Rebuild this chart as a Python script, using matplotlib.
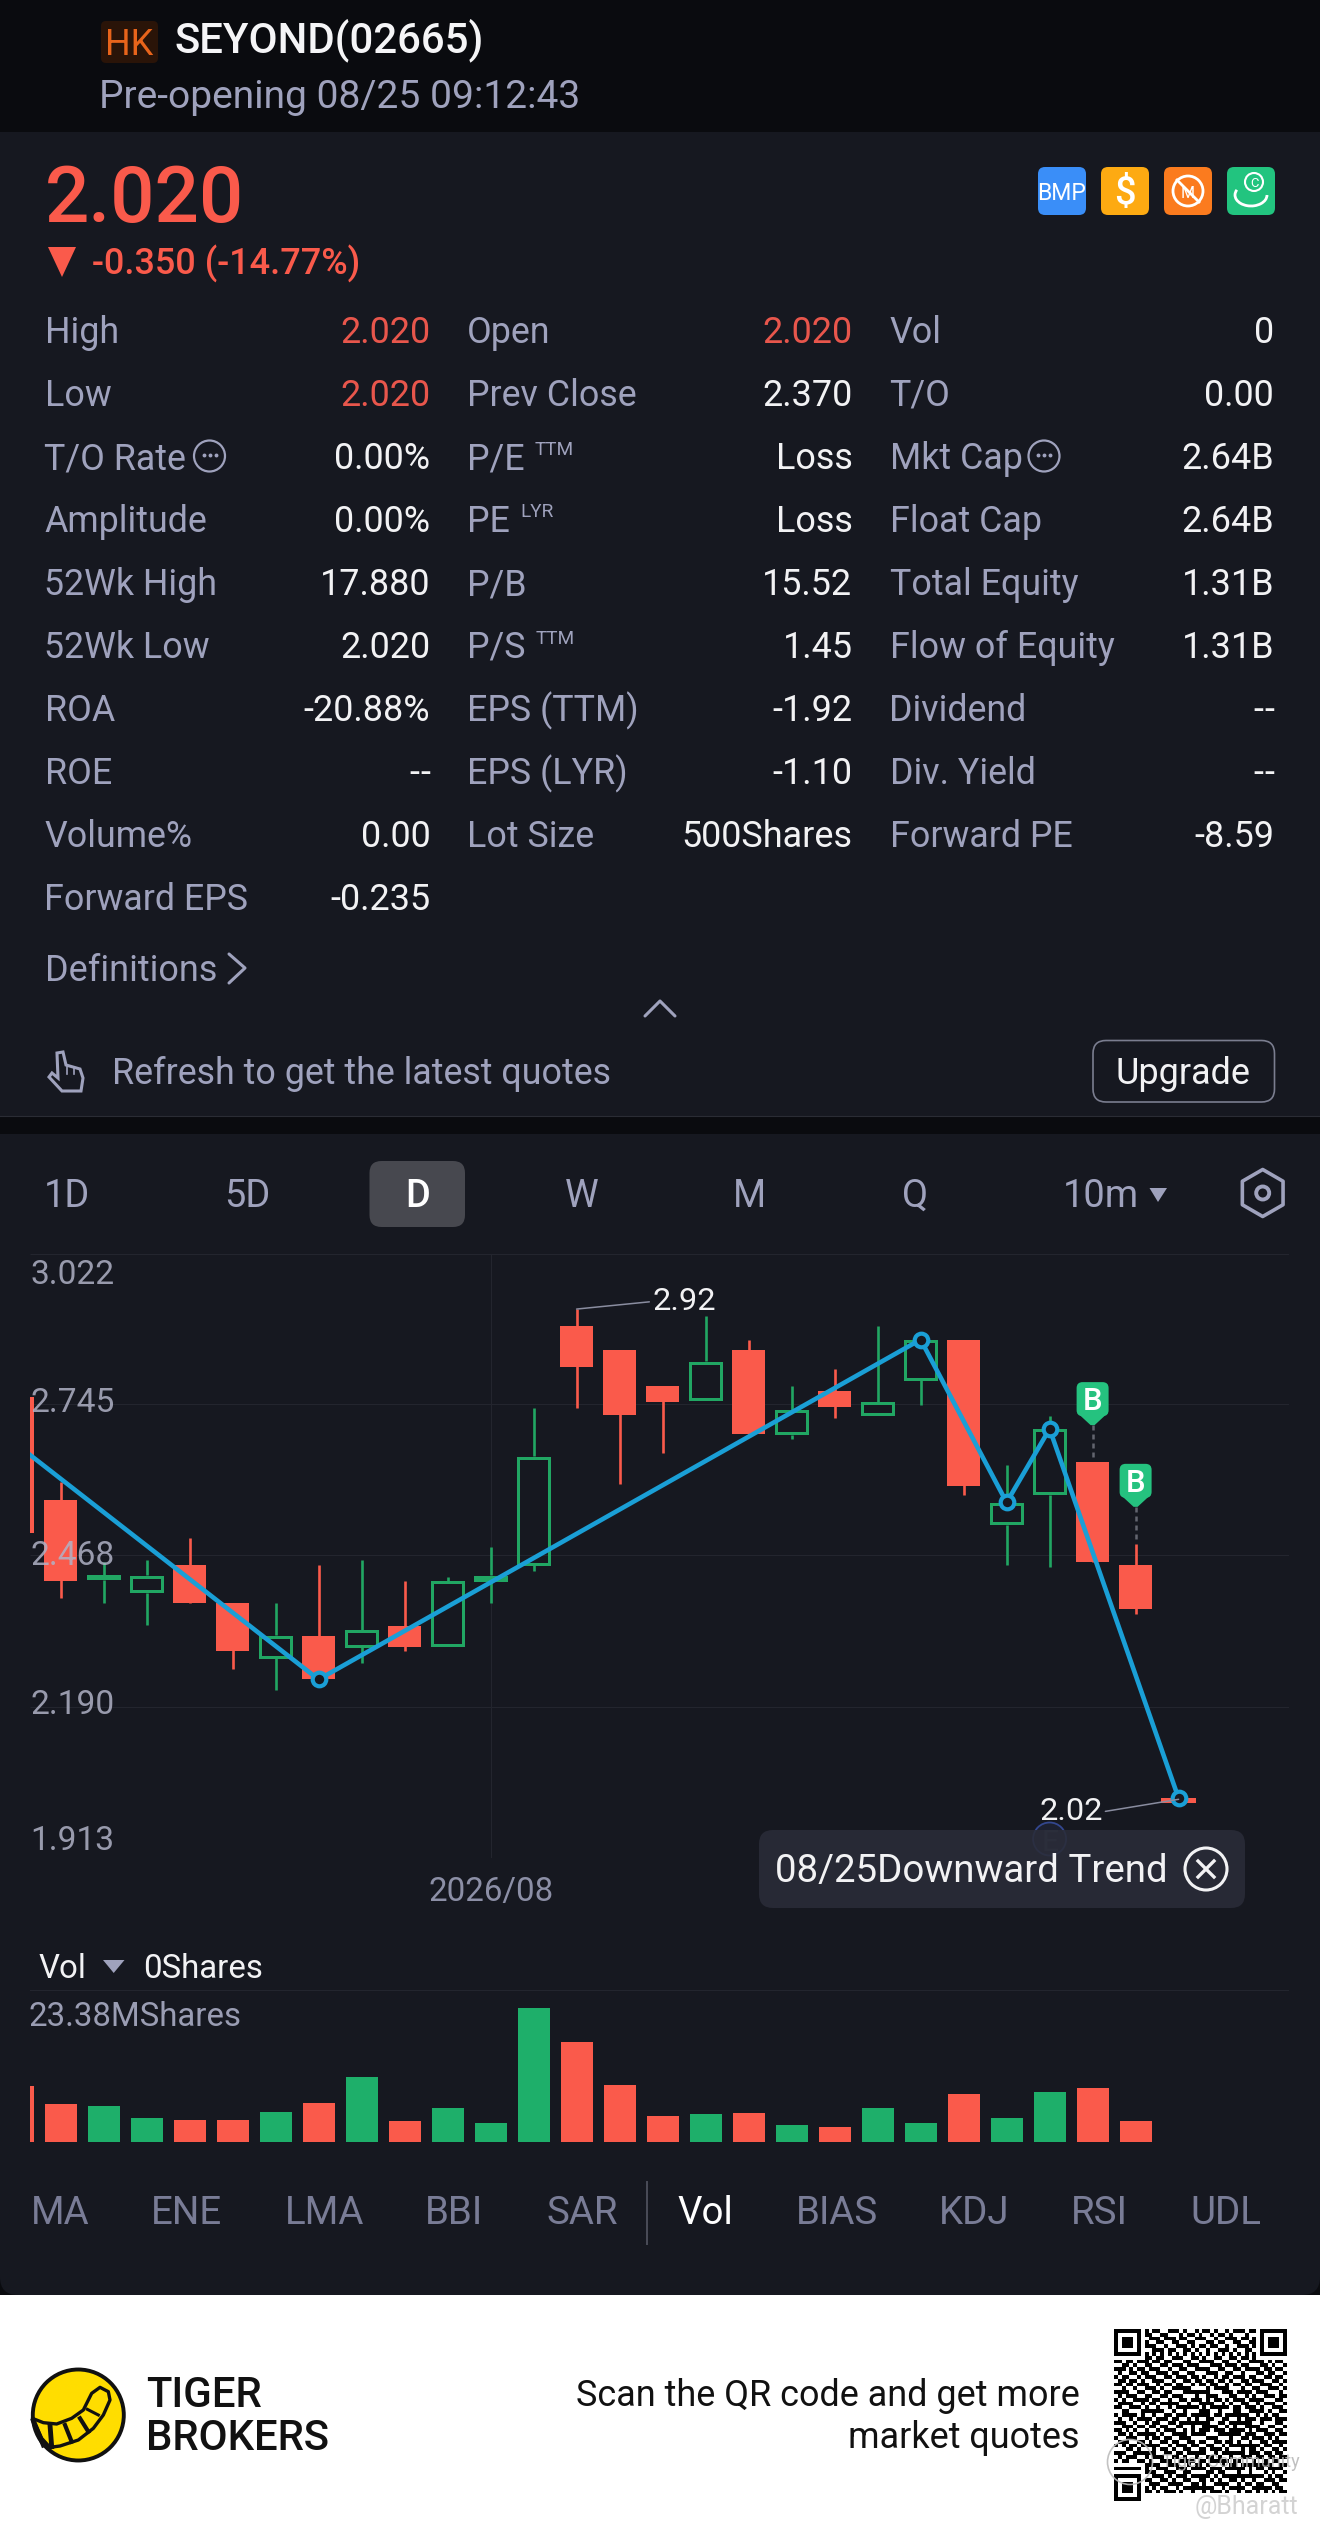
import matplotlib
matplotlib.use("Agg")
import matplotlib.pyplot as plt
import numpy as np
from matplotlib.patches import Rectangle, FancyBboxPatch, Circle, Polygon, RegularPolygon, Arc
from matplotlib.transforms import ScaledTranslation

plt.rcParams['font.family'] = ['Roboto', 'DejaVu Sans']

# ---------- data ----------
highs  = [2.758,2.603,2.455,2.459,2.500,2.381,2.380,2.450,2.459,2.420,2.429,2.484,2.739,2.920,2.844,2.779,2.907,2.864,2.779,2.810,2.889,2.864,2.864,2.634,2.723,2.639,2.489,2.023]
lows   = [2.509,2.390,2.380,2.340,2.381,2.260,2.221,2.240,2.271,2.292,2.300,2.380,2.440,2.739,2.599,2.655,2.753,2.690,2.681,2.720,2.724,2.744,2.579,2.451,2.446,2.455,2.361,2.014]
opens  = [2.758,2.570,2.423,2.399,2.450,2.381,2.279,2.320,2.299,2.339,2.300,2.420,2.450,2.889,2.844,2.779,2.753,2.844,2.689,2.769,2.724,2.789,2.864,2.524,2.579,2.639,2.450,2.023]
closes = [2.509,2.421,2.432,2.431,2.381,2.292,2.321,2.240,2.331,2.300,2.421,2.431,2.650,2.814,2.725,2.750,2.824,2.690,2.735,2.740,2.750,2.864,2.595,2.565,2.700,2.455,2.370,2.014]
volumes = [8.63,5.75,5.45,3.60,3.29,3.29,4.57,6.01,9.92,3.19,5.19,2.93,20.60,15.31,8.73,3.96,4.26,4.47,2.57,2.26,5.14,2.83,7.30,3.70,7.71,8.32,3.19,0.0]
zig_idx = [0,7,21,23,24,27]
zig_val = [2.670,2.240,2.864,2.565,2.700,2.022]
price_ticks = [3.022,2.745,2.468,2.190,1.913]
price_tick_labels = ['3.022','2.745','2.468','2.190','1.913']
vol_max = 23.38
date_tick = 11
date_label = '2026/08'

table_labels = [
 ['High','Low','T/O Rate','Amplitude','52Wk High','52Wk Low','ROA','ROE','Volume%','Forward EPS'],
 ['Open','Prev Close','P/E','PE','P/B','P/S','EPS (TTM)','EPS (LYR)','Lot Size'],
 ['Vol','T/O','Mkt Cap','Float Cap','Total Equity','Flow of Equity','Dividend','Div. Yield','Forward PE'],
]
table_values = [
 ['2.020','2.020','0.00%','0.00%','17.880','2.020','-20.88%','--','0.00','-0.235'],
 ['2.020','2.370','Loss','Loss','15.52','1.45','-1.92','-1.10','500Shares'],
 ['0','0.00','2.64B','2.64B','1.31B','1.31B','--','--','-8.59'],
]
period_tabs = ['1D','5D','D','W','M','Q']
indicator_tabs = ['MA','ENE','LMA','BBI','SAR','Vol','BIAS','KDJ','RSI','UDL']

qr_rows = """
111111101011001110100101101001011101101111111
100000101100110001011010010110100010001000001
101110100111011101100111001001110110101011101
101110101001100110011000110110011001101011101
101110101110010011101011011001001110101011101
100000100011101100110100100111010011001000001
111111101010101010101010101010101010101111111
000000001101100111001101001100110110100000000
110110111011011000110011110011001001111010110
001101001100110111011100011101110110001101001
111010110111001001100111100110011011110110110
010011011001110110011000111001100100011011001
101100101110011011101101001011011101100110110
011011010011100100110110110110100110111001101
110110111001011011001011011001011011001110010
001001001110100111110000101111000100110011101
111100110011011000111111100011101111011100010
010111001100110111000100111000110010100111011
101001111011001001101110101101011101111000110
011110010110111110010011110010100110010111001
110011101001001011111101011111011011101001110
001100011111100100100011100100011001111010011
101111010010011011101111101101111110010101100
010010111101110110010100110011001011101110111
111001001011001101111111100110111111001000110
001110110110110011001001111001010011110011001
110101001001011100101011101110111101011100110
011010111110100111101111000111111011100111011
100111001011011001110000111000100110111010100
011100110100110110011011001101101001001101111
101011011111001011101100110010111111110110010
000110100010110100110011011101000101101001101
111001111110011011011111001011111101110110110
010111001011100110100100110100100111011011011
101100110100111001111011011111011000100101100
000000001111001110010110100010110111111110011
111111101001110011101111011101111101011011110
100000101110011100110000110110001001000101001
101110100011101011101111101011111111111010110
101110101100110100110011010100110100100111011
101110100111001111001101001111001011011001100
100000101010110010111111110010111100111110110
111111101101011101001001011101001011010101011
000000000000000000000000000000000000000000000
000000000000000000000000000000000000000000000
""".split()

W, H = 1320, 2535
DARK = '#0a0b0f'; PANEL = '#161820'; LABEL = '#9fa2bd'; VALUE = '#f2f2f4'
RED = '#fa5a4b'; TRED = '#e8564c'; GREEN = '#21a663'; VGREEN = '#1eaf6a'; BLUE = '#1a9fd6'; GRID = '#23252e'

fig = plt.figure(figsize=(W/100, H/100), dpi=100, facecolor='white')

def axpx(x0, y0, x1, y1, z):
    a = fig.add_axes([x0/W, 1-y1/H, (x1-x0)/W, (y1-y0)/H], zorder=z)
    return a

bg = axpx(0, 0, W, H, 0); bg.set_xlim(0, W); bg.set_ylim(H, 0); bg.axis('off')
fg = axpx(0, 0, W, H, 5); fg.set_xlim(0, W); fg.set_ylim(H, 0); fg.axis('off')
fg.patch.set_alpha(0)

def T(x, y, s, px, color=VALUE, ha='left', weight='normal', a=fg, **k):
    return a.text(x, y, s, fontsize=px*0.72, color=color, ha=ha, va='baseline', fontweight=weight, **k)

def RR(a, x0, y0, x1, y1, r, fc, ec='none', lw=0, z=1, alpha=None):
    p = FancyBboxPatch((x0+r, y0+r), x1-x0-2*r, y1-y0-2*r, boxstyle=f"round,pad={r},rounding_size={r}",
                       fc=fc, ec=ec, lw=lw, zorder=z, alpha=alpha)
    a.add_patch(p)
    return p

# backgrounds
bg.add_patch(Rectangle((0, 0), W, 2295, fc=DARK, ec='none'))
bg.add_patch(Rectangle((0, 132), W, 984, fc=PANEL, ec='none'))
bg.add_patch(Rectangle((0, 1134), W, 1130, fc=PANEL, ec='none'))
RR(bg, 0, 2200, W, 2295, 18, PANEL)
bg.plot([0, W], [1116, 1116], color='#2a2c34', lw=0.8)

# header
RR(fg, 101, 21, 158, 63, 5, '#2a1408')
T(129.5, 55, 'HK', 36, '#e8641b', ha='center')
T(174, 52, 'SEYOND(02665)', 42, '#f5f5f7', weight='medium')
T(99, 107.5, 'Pre-opening 08/25 09:12:43', 39, LABEL)

# price head
T(45, 222, '2.020', 78, RED, weight='medium')
fg.add_patch(Polygon([(48, 247), (76, 247), (62, 277)], fc=RED, ec='none'))
T(92.5, 275, '-0.350 (-14.77%)', 36, RED, weight='medium')

# status icons
for x0, c in zip([1038, 1101, 1164, 1227], ['#3a8ef8', '#fdaa12', '#fb7b1e', '#22c47f']):
    RR(fg, x0, 167, x0+48, 215, 7, c)
T(1062, 200, 'BMP', 23, 'white', ha='center')
T(1125, 204, '$', 38, 'white', ha='center', weight='medium')
fg.add_patch(Circle((1188, 191), 15, fc='none', ec='white', lw=2))
fg.plot([1177, 1199], [180, 202], color='white', lw=2)
T(1188, 198, 'M', 16, 'white', ha='center')
fg.add_patch(Circle((1254, 182), 9, fc='none', ec='white', lw=1.5))
T(1254, 187, 'C', 13, 'white', ha='center')
fg.add_patch(Arc((1251, 195), 32, 22, theta1=0, theta2=200, ec='white', lw=2))

# table
row_y = [343 + 63*i for i in range(10)]
lab_x = [44.5, 467, 889.5]
val_x = [430.5, 852.5, 1274]
for c in range(3):
    for r, (l, v) in enumerate(zip(table_labels[c], table_values[c])):
        T(lab_x[c], row_y[r], l, 35.8, LABEL)
        col = TRED if (c == 0 and r < 2) or (c == 1 and r == 0) else VALUE
        if v == '--':
            T(val_x[c], row_y[r], '-', 36, col, ha='right')
            T(val_x[c]-11, row_y[r], '-', 36, col, ha='right')
        else:
            T(val_x[c], row_y[r], v, 36, col, ha='right')
T(534.5, 455, 'TTM', 19, LABEL)
T(520, 517, 'LYR', 19, LABEL)
T(535.5, 643.5, 'TTM', 19, LABEL)
for cx in (209.5, 1044):
    fg.add_patch(Circle((cx, 456), 15.5, fc='none', ec=LABEL, lw=1.6))
    fg.plot([cx-6, cx, cx+6], [455, 455, 455], ls='none', marker='o', ms=1.8, color=LABEL)

T(44.5, 981, 'Definitions', 36, LABEL)
fg.plot([229, 245, 229], [954, 968, 983], color=LABEL, lw=2.2, solid_capstyle='round')
fg.plot([645, 660, 675], [1016, 1001, 1016], color=LABEL, lw=2.2, solid_capstyle='round')

# hand icon
fg.add_patch(Polygon([(57, 1053), (63, 1052), (66, 1065), (80, 1069), (83, 1078), (81, 1091), (62, 1091),
                      (49, 1077), (52, 1073), (58, 1078)], fc='none', ec=LABEL, lw=2.2))
fg.plot([67, 67], [1066, 1074], color=LABEL, lw=1.2)
fg.plot([74, 74], [1068, 1074], color=LABEL, lw=1.2)
T(111.5, 1083.5, 'Refresh to get the latest quotes', 35.8, LABEL)
RR(fg, 1093, 1040.5, 1274.5, 1102, 13, 'none', ec='#7a7d8f', lw=1.2)
T(1183, 1083.5, 'Upgrade', 36, VALUE, ha='center')

# period tabs
RR(fg, 369.5, 1161, 465, 1227, 12, '#47484f')
for s, cx in zip(period_tabs, [67, 247.7, 417.5, 582, 749.6, 915]):
    if s == 'D':
        T(cx, 1207, s, 38, 'white', ha='center', weight='medium')
    else:
        T(cx, 1207, s, 38, LABEL, ha='center')
T(1063, 1207, '10m', 38, LABEL)
fg.add_patch(Polygon([(1149.5, 1188), (1167, 1188), (1158, 1202)], fc=LABEL, ec='none'))
fg.add_patch(RegularPolygon((1262.7, 1193), 6, radius=23.5, fc='none', ec=LABEL, lw=2.6, joinstyle='round'))
fg.add_patch(Circle((1262.7, 1193), 6.5, fc='none', ec=LABEL, lw=2.8))

# ---------- price chart ----------
ax = axpx(30, 1253.5, 1289, 1857.6, 2)
ax.patch.set_alpha(0)
ax.set_xlim((30-17.6)/43, (1289-17.6)/43)
ax.set_ylim(price_ticks[-1], price_ticks[0])
for s in ax.spines.values():
    s.set_visible(False)
per_px = (price_ticks[0]-price_ticks[-1])/604.1

ax.hlines(price_ticks, *ax.get_xlim(), color=GRID, lw=0.8, zorder=1)
ax.vlines([date_tick], price_ticks[-1], price_ticks[0], color=GRID, lw=0.8, zorder=1)

xs = np.arange(len(closes))
for i in xs:
    up = closes[i] > opens[i]
    top, bot = max(opens[i], closes[i]), min(opens[i], closes[i])
    if up:
        ins = 1.5*per_px
        ax.bar(i, top-bot-2*ins, bottom=bot+ins, width=0.72, facecolor='none', edgecolor=GREEN, linewidth=2.16, zorder=2)
        ax.vlines(i, top, highs[i], color=GREEN, linewidth=1.9, zorder=2)
        ax.vlines(i, lows[i], bot, color=GREEN, linewidth=1.9, zorder=2)
    else:
        if i == len(closes)-1:
            ax.bar(i, top-bot, bottom=bot, width=0.82, color=RED, linewidth=0, zorder=2)
        else:
            ax.bar(i, top-bot, bottom=bot, width=0.767, color=RED, linewidth=0, zorder=2)
            ax.vlines(i, lows[i], highs[i], color=RED, linewidth=1.9, zorder=2)

ax.plot(zig_idx, zig_val, color=BLUE, lw=3.3, zorder=2.2, marker='o', markevery=[1, 2, 3, 4, 5],
        ms=9.8, mew=3.0, mfc=PANEL, mec=BLUE, solid_joinstyle='round')

ax.set_yticks(price_ticks, price_tick_labels)
ax.set_xticks([date_tick], [date_label])
ax.set_axisbelow(False)
ax.tick_params(axis='y', length=0, pad=0, labelsize=33.5*0.72, labelcolor='#b0b2c6')
ax.tick_params(axis='x', length=0, pad=13, labelsize=33*0.72, labelcolor='#8c8fa6')
y_off = [-30.5, -8, -9.5, -7, 8]
for lab, off in zip(ax.get_yticklabels(), y_off):
    lab.set_ha('left'); lab.set_va('baseline'); lab.set_alpha(0.85)
    lab.set_transform(lab.get_transform() + ScaledTranslation(0, off/100, fig.dpi_scale_trans))

ax.annotate('2.92', xy=(13, 2.92), xytext=(75.5, 7.5), textcoords='offset pixels', color=VALUE,
            fontsize=32.5*0.72, ha='left', va='center', annotation_clip=False, zorder=6,
            arrowprops=dict(arrowstyle='-', color='#8a8da0', lw=1.1, shrinkA=0, shrinkB=0, relpos=(0, 0.5)))
ax.annotate('2.02', xy=(27, 2.02), xytext=(-76, -12.5), textcoords='offset pixels', color=VALUE,
            fontsize=32.5*0.72, ha='right', va='center', annotation_clip=False, zorder=6,
            arrowprops=dict(arrowstyle='-', color='#8a8da0', lw=1.1, shrinkA=0, shrinkB=0, relpos=(1, 0.5)))

def to_px(i, p):
    X, Y = ax.transData.transform((i, p))
    return X, H - Y

# buy pins
for i in (25, 26):
    px, py = to_px(i, highs[i])
    tip = py - 37
    fg.plot([px, px], [tip, py-5], color='#63656f', lw=1.8, dashes=(2, 1.6), zorder=2)
    RR(fg, px-16, tip-43, px+16, tip-9, 6, '#25c27f', z=3)
    fg.add_patch(Polygon([(px-15, tip-12), (px+15, tip-12), (px+2, tip), (px-2, tip)], fc='#25c27f', ec='none', zorder=3))
    T(px, tip-15, 'B', 31, 'white', ha='center', weight='medium', zorder=4)

# earnings marker below tooltip, then tooltip
ex, _ = to_px(24, 2.0)
fg.add_patch(Circle((ex, 1839), 16.5, fc='#1c2030', ec='#33478f', lw=1.3, zorder=2))
T(ex, 1851, 'E', 30, '#3a4258', ha='center', zorder=2)
RR(fg, 759, 1830, 1245, 1908, 14, '#2a2c38', z=3, alpha=0.88)
T(775, 1882, '08/25Downward Trend', 38.5, VALUE, zorder=4)
fg.add_patch(Circle((1206, 1869), 21, fc='none', ec=VALUE, lw=2.2, zorder=4))
fg.plot([1198, 1214], [1861, 1877], color=VALUE, lw=2.4, zorder=4)
fg.plot([1198, 1214], [1877, 1861], color=VALUE, lw=2.4, zorder=4)

# ---------- volume chart ----------
vx = axpx(30, 1990, 1289, 2141.7, 2)
vx.patch.set_alpha(0)
vx.set_xlim((30-17.6)/43, (1289-17.6)/43)
vx.set_ylim(0, vol_max)
for s in vx.spines.values():
    s.set_visible(False)
vcol = [VGREEN if closes[i] > opens[i] else RED for i in xs]
vx.bar(xs, volumes, width=0.744, color=vcol, linewidth=0, zorder=3)
vx.set_yticks([0, vol_max], ['', '23.38MShares'])
vx.set_xticks([])
vx.grid(True, axis='y', color=GRID, lw=0.8, zorder=0)
vx.set_axisbelow(True)
vx.tick_params(axis='y', length=0, pad=0, labelsize=33*0.72, labelcolor='#9a9db3')
for lab in vx.get_yticklabels():
    lab.set_ha('left'); lab.set_va('baseline')
    lab.set_transform(lab.get_transform() + ScaledTranslation(-1/100, -35.5/100, fig.dpi_scale_trans))

T(38.5, 1977.5, 'Vol', 33, VALUE)
fg.add_patch(Polygon([(103, 1960), (124.5, 1960), (113.7, 1973)], fc=LABEL, ec='none'))
T(143.5, 1977.5, '0Shares', 33, VALUE)

for s, cx in zip(indicator_tabs, [59.8, 186.9, 325, 454.5, 582.5, 705.4, 836.7, 974, 1099, 1225.6]):
    T(cx, 2224.5, s, 38.5, 'white' if s == 'Vol' else '#797c96', ha='center')
fg.plot([646.5, 646.5], [2182, 2244], color='#4a4c58', lw=1.4)

# ---------- footer ----------
def lz(x, y):
    return (x/3, 2350 + y/3)
fg.add_patch(Circle((78.3, 2415), 45.5, fc='#ffdd00', ec='#111111', lw=2.8))
band = [(97,205),(130,218),(170,222),(215,205),(250,180),(275,130),(300,112),(325,125),(330,150),(310,195),
        (280,235),(235,270),(180,288),(150,292),(125,265)]
fg.add_patch(Polygon([lz(*p) for p in band], fc='#ffdd00', ec='#111111', lw=2.4, joinstyle='round'))
for (a, b), lw in zip([((100,212),(130,285)), ((150,225),(155,290)), ((195,225),(215,275)), ((240,205),(265,245)), ((262,178),(295,195))],
                      [3.5, 3.5, 3, 3, 2.2]):
    fg.plot(*zip(lz(*a), lz(*b)), color='#111111', lw=lw)
T(146, 2407, 'TIGER', 42, '#111111', weight='medium')
T(146, 2449.5, 'BROKERS', 42, '#111111', weight='medium')
T(1079.5, 2406.5, 'Scan the QR code and get more', 36, '#111111', ha='right')
T(1079.5, 2448.5, 'market quotes', 36, '#111111', ha='right')

# QR code
n = 45
qr = np.array([[c == '1' for c in r.ljust(n, '0')[:n]] for r in qr_rows], dtype=float)
def finder(r0, c0):
    qr[max(r0-1,0):r0+8, max(c0-1,0):c0+8] = 0
    qr[r0:r0+7, c0:c0+7] = 1
    qr[r0+1:r0+6, c0+1:c0+6] = 0
    qr[r0+2:r0+5, c0+2:c0+5] = 1
finder(0, 0); finder(0, n-7); finder(n-7, 0)
qa = axpx(1114, 2329, 1286, 2501, 3)
qa.imshow(1-qr, cmap='gray', vmin=0, vmax=1, interpolation='nearest', aspect='auto')
qa.axis('off')

# watermark
fg.add_patch(Circle((1130, 2462), 22.5, fc='none', ec='#bdbdbd', lw=1.2, alpha=0.9))
T(1162, 2467, 'Tiger Community', 18, '#b5b5b5', alpha=0.85)
T(1195, 2514, '@Bharatt', 25, '#cfcfcf', alpha=0.9)

fig.savefig('out.png', dpi=100, facecolor='white')
